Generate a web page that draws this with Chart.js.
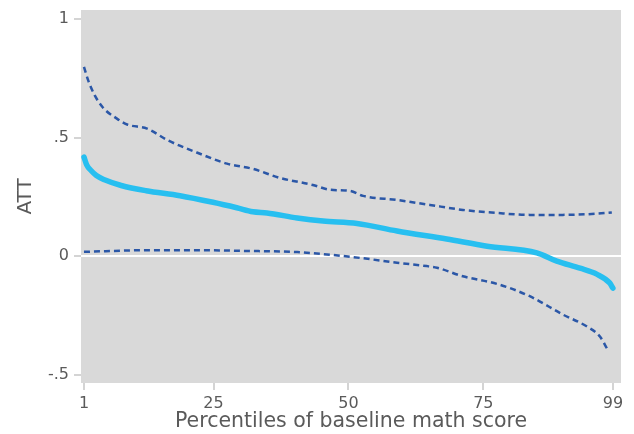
<!DOCTYPE html>
<html>
<head>
<meta charset="utf-8">
<script src="https://cdn.jsdelivr.net/npm/chart.js@4/dist/chart.umd.min.js"></script>
<style>
  html, body { margin: 0; padding: 0; background: #fff; }
  #wrap { width: 634px; height: 434px; }
</style>
</head>
<body>
<div id="wrap"><canvas id="myChart" width="634" height="434"></canvas></div>
<script>
// ATT estimate by percentile of baseline math score
const attX = [1, 1.5, 2.35, 3.3, 4.8, 7.9, 12.5, 18.8, 24.9, 29.3, 32.3, 34.9, 40.5, 45.3, 51.6, 59, 68.2, 75.7, 84.9, 88.6, 92.9, 96, 98.4, 99];
const attY = [0.418, 0.385, 0.36, 0.34, 0.322, 0.298, 0.276, 0.255, 0.227, 0.204, 0.187, 0.182, 0.161, 0.148, 0.138, 0.106, 0.072, 0.042, 0.014, -0.021, -0.051, -0.076, -0.113, -0.135];

// upper confidence bound
const upperX = [1, 1.8, 3, 4.5, 7.1, 9, 12.7, 16.4, 21.9, 27.5, 32.3, 37.3, 43.4, 46.6, 50.3, 52.7, 59, 65.1, 71.2, 77.5, 83.6, 89.7, 96, 98.8];
const upperY = [0.798, 0.74, 0.678, 0.627, 0.58, 0.555, 0.538, 0.49, 0.437, 0.39, 0.368, 0.33, 0.30, 0.28, 0.275, 0.254, 0.237, 0.216, 0.195, 0.182, 0.174, 0.174, 0.179, 0.184];

// lower confidence bound
const lowerX = [1, 12.7, 22, 31, 40.5, 46.6, 52.7, 59, 64.5, 66.4, 71.2, 77.5, 83.6, 89.7, 94.2, 96.6, 98.1];
const lowerY = [0.018, 0.025, 0.025, 0.022, 0.017, 0.006, -0.009, -0.028, -0.042, -0.049, -0.085, -0.117, -0.169, -0.246, -0.297, -0.339, -0.398];

const xTicks = [1, 25, 50, 75, 99];
const yTicks = [-0.5, 0, 0.5, 1];
const yTickLabels = ["-.5", "0", ".5", "1"];

const toPoints = (xs, ys) => xs.map((x, i) => ({ x: x, y: ys[i] }));

const plotBg = {
    id: 'plotBg',
    beforeDraw(chart) {
        const { ctx, chartArea } = chart;
        ctx.save();
        ctx.fillStyle = '#d9d9d9';
        ctx.fillRect(chartArea.left, chartArea.top, chartArea.right - chartArea.left, chartArea.bottom - chartArea.top);
        ctx.restore();
    }
};

const textColor = '#5a5a5a';
const fontFamily = "'DejaVu Sans', sans-serif";

const ctx = document.getElementById('myChart').getContext('2d');
const myChart = new Chart(ctx, {
    type: 'line',
    data: {
        datasets: [
            {
                label: 'Upper',
                data: toPoints(upperX, upperY),
                borderColor: '#2b57a7',
                borderWidth: 2.5,
                borderDash: [6, 4],
                pointRadius: 0,
                cubicInterpolationMode: 'monotone',
                fill: false
            },
            {
                label: 'Lower',
                data: toPoints(lowerX, lowerY),
                borderColor: '#2b57a7',
                borderWidth: 2.5,
                borderDash: [6, 4],
                pointRadius: 0,
                cubicInterpolationMode: 'monotone',
                fill: false
            },
            {
                label: 'ATT',
                data: toPoints(attX, attY),
                borderColor: '#27bff0',
                borderWidth: 5.5,
                borderCapStyle: 'round',
                pointRadius: 0,
                cubicInterpolationMode: 'monotone',
                fill: false
            }
        ]
    },
    options: {
        responsive: false,
        animation: false,
        layout: { padding: { top: 10, right: 13, left: 0, bottom: 0 } },
        plugins: {
            legend: { display: false },
            tooltip: { enabled: false }
        },
        scales: {
            x: {
                type: 'linear',
                min: 0.45,
                max: 100.5,
                border: { display: false },
                grid: {
                    drawOnChartArea: false,
                    drawTicks: true,
                    tickLength: 7,
                    tickColor: '#d4d4d4',
                    lineWidth: 2
                },
                afterBuildTicks: (axis) => { axis.ticks = xTicks.map(v => ({ value: v })); },
                afterFit: (axis) => {
                    axis.height = 51;
                    axis.paddingLeft = 0;
                    axis.paddingRight = 0;
                },
                ticks: {
                    color: textColor,
                    font: { family: fontFamily, size: 16 },
                    padding: 4,
                    maxRotation: 0,
                    callback: (v) => String(v)
                },
                title: {
                    display: true,
                    text: 'Percentiles of baseline math score',
                    color: textColor,
                    font: { family: fontFamily, size: 20.5 },
                    padding: { top: 0, bottom: 0 }
                }
            },
            y: {
                min: -0.535,
                max: 1.038,
                border: { display: false },
                grid: {
                    color: (c) => (c.tick && c.tick.value === 0 ? '#ffffff' : 'rgba(0,0,0,0)'),
                    lineWidth: 2,
                    drawTicks: true,
                    tickLength: 7,
                    tickColor: '#d4d4d4'
                },
                afterBuildTicks: (axis) => { axis.ticks = yTicks.map(v => ({ value: v })); },
                afterFit: (axis) => {
                    axis.width = 81;
                    axis.paddingTop = 0;
                    axis.paddingBottom = 0;
                },
                ticks: {
                    color: textColor,
                    font: { family: fontFamily, size: 16 },
                    padding: 5,
                    callback: (v) => yTickLabels[yTicks.indexOf(v)]
                },
                title: {
                    display: true,
                    text: 'ATT',
                    color: textColor,
                    font: { family: fontFamily, size: 20 },
                    padding: { top: 14, bottom: 0 }
                }
            }
        }
    },
    plugins: [plotBg]
});
</script>
</body>
</html>
